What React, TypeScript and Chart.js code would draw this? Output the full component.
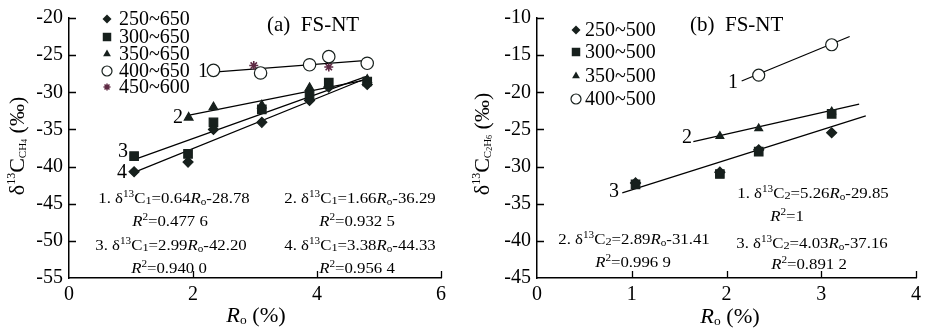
import React, { useEffect, useRef } from "react";
import { Chart, registerables } from "chart.js";

Chart.register(...registerables);

// ---------------- Panel (a): δ13C of CH4 ----------------
const aLegend = ["250~650", "300~650", "350~650", "400~650", "450~600"];
const a250Ro = [1.05, 1.92, 2.33, 3.11, 3.88, 4.19, 4.81];
const a250D = [-40.7, -39.4, -35.0, -34.05, -31.1, -29.3, -28.95];
const a300Ro = [1.05, 1.92, 2.33, 3.11, 3.88, 4.19, 4.81];
const a300D = [-38.6, -38.3, -34.05, -32.3, -30.4, -28.7, -28.55];
const a350Ro = [1.93, 2.33, 3.11, 3.88, 4.81];
const a350D = [-33.4, -32.0, -31.75, -29.4, -28.3];
const a400Ro = [2.33, 3.09, 3.88, 4.19, 4.81];
const a400D = [-27.05, -27.4, -26.3, -25.2, -26.1];
const a450Ro = [2.98, 4.19];
const a450D = [-26.4, -26.6];
// regression lines 1..4 (from the printed equations)
const aFitSlope = [0.64, 1.66, 2.99, 3.38];
const aFitIntercept = [-28.78, -36.29, -42.2, -44.33];
const aFitFrom = [2.33, 1.92, 1.05, 1.05];
const aFitTo = [4.81, 4.81, 4.81, 4.81];
const aR2 = ["0.477 6", "0.932 5", "0.940 0", "0.956 4"];
const aXTicks = [0, 2, 4, 6];
const aYTicks = [-55, -50, -45, -40, -35, -30, -25, -20];

// ---------------- Panel (b): δ13C of C2H6 ----------------
const bLegend = ["250~500", "300~500", "350~500", "400~500"];
const b250Ro = [1.04, 1.93, 2.34, 3.11];
const b250D = [-32.2, -30.75, -27.75, -25.45];
const b300Ro = [1.04, 1.93, 2.34, 3.11];
const b300D = [-32.4, -31.0, -28.0, -22.9];
const b350Ro = [1.93, 2.34, 3.11];
const b350D = [-25.9, -24.87, -22.6];
const b400Ro = [2.34, 3.11];
const b400D = [-17.7, -13.6];
const bFitSlope = [5.26, 2.89, 4.03];
const bFitIntercept = [-29.85, -31.41, -37.16];
const bFitFrom = [2.16, 1.65, 0.9];
const bFitTo = [3.3, 3.4, 3.47];
const bR2 = ["1", "0.996 9", "0.891 2"];
const bXTicks = [0, 1, 2, 3, 4];
const bYTicks = [-45, -40, -35, -30, -25, -20, -15, -10];

const FF = "'Liberation Serif', 'Times New Roman', Times, serif";
const INK = "#17201d";
const STAR = "#5e2a44";
const WIDE = 1.12;

type Seg = [string, number, number?, boolean?];

function segFont(s: Seg) {
  return `${s[3] ? "italic " : ""}${s[1]}px ${FF}`;
}
function drawRich(ctx: CanvasRenderingContext2D, segs: Seg[], x: number, y: number, align = "left", sx = 1) {
  ctx.save();
  ctx.textBaseline = "alphabetic";
  ctx.textAlign = "left";
  ctx.fillStyle = "#000";
  let w = 0;
  for (const s of segs) {
    ctx.font = segFont(s);
    w += ctx.measureText(s[0]).width;
  }
  ctx.translate(x, y);
  ctx.scale(sx, 1);
  let cx = align === "center" ? -w / 2 : align === "right" ? -w : 0;
  for (const s of segs) {
    ctx.font = segFont(s);
    ctx.fillText(s[0], cx, s[2] || 0);
    cx += ctx.measureText(s[0]).width;
  }
  ctx.restore();
}
function eqSegs(n: number, sub: string, k: number, b: number): Seg[] {
  return [
    [`${n}. δ`, 15],
    ["13", 10, -6],
    ["C", 15],
    [sub, 11, 1],
    [`=${k.toFixed(2)}`, 15],
    ["R", 15, 0, true],
    ["o", 10, 2],
    [`-${Math.abs(b).toFixed(2)}`, 15],
  ];
}
function r2Segs(r: string): Seg[] {
  return [["R", 15, 0, true], ["2", 10, -6], [`=${r}`, 15]];
}

function drawMarker(ctx: CanvasRenderingContext2D, style: string, x: number, y: number, r: number, color: string) {
  ctx.save();
  ctx.beginPath();
  ctx.fillStyle = color;
  ctx.strokeStyle = color;
  ctx.lineWidth = 1.2;
  if (style === "rectRot") {
    ctx.moveTo(x - r, y); ctx.lineTo(x, y - r); ctx.lineTo(x + r, y); ctx.lineTo(x, y + r); ctx.closePath(); ctx.fill();
  } else if (style === "rect") {
    const s = r * Math.SQRT1_2;
    ctx.rect(x - s, y - s, 2 * s, 2 * s); ctx.fill();
  } else if (style === "triangle") {
    for (let i = 0; i < 3; i++) {
      const a = (i * 2 * Math.PI) / 3;
      const px = x + Math.sin(a) * r, py = y - Math.cos(a) * r;
      if (i === 0) ctx.moveTo(px, py); else ctx.lineTo(px, py);
    }
    ctx.closePath(); ctx.fill();
  } else if (style === "circle") {
    ctx.arc(x, y, r, 0, Math.PI * 2);
    ctx.fillStyle = "#fff"; ctx.fill(); ctx.stroke();
  } else if (style === "star") {
    for (let i = 0; i < 4; i++) {
      const a = (i * Math.PI) / 4;
      ctx.moveTo(x - Math.cos(a) * r, y - Math.sin(a) * r);
      ctx.lineTo(x + Math.cos(a) * r, y + Math.sin(a) * r);
    }
    ctx.lineWidth = 1.5; ctx.stroke();
  }
  ctx.restore();
}

function pts(xs: number[], ys: number[]) {
  return xs.map((x, i) => ({ x, y: ys[i] }));
}
function fitLine(k: number, b: number, x0: number, x1: number) {
  return [{ x: x0, y: k * x0 + b }, { x: x1, y: k * x1 + b }];
}

interface Series { label: string; data: { x: number; y: number }[]; style: string; r: number; color: string; legR: number }
interface TextItem { segs: Seg[]; x: number; y: number; align: string; sx?: number }

interface PanelProps {
  left: number;
  width: number;
  xTicks: number[];
  yTicks: number[];
  axisW: number;
  padRight: number;
  series: Series[];
  fits: { x: number; y: number }[][];
  texts: TextItem[];
  legendX: number;
  legendTextX: number;
  legendBase: number[];
  yTitle: Seg[];
  yTitlePos: [number, number];
}

function Panel(p: PanelProps) {
  const ref = useRef<HTMLCanvasElement | null>(null);
  useEffect(() => {
    if (!ref.current) return;
    const datasets: any[] = [];
    p.series.forEach((s) => {
      datasets.push({
        label: s.label,
        data: s.data,
        pointStyle: s.style,
        pointRadius: s.r,
        pointBackgroundColor: s.style === "circle" ? "#fff" : s.color,
        pointBorderColor: s.color,
        pointBorderWidth: s.style === "star" ? 1.6 : 1.2,
        showLine: false,
      });
    });
    p.fits.forEach((f) => {
      datasets.push({
        data: f,
        showLine: true,
        pointRadius: 0,
        borderColor: "#000",
        borderWidth: 1.2,
        fill: false,
      });
    });
    const xMin = p.xTicks[0], xMax = p.xTicks[p.xTicks.length - 1];
    const yMin = p.yTicks[0], yMax = p.yTicks[p.yTicks.length - 1];
    const overlay = {
      id: "overlay",
      afterDraw(chart: any) {
        const ctx = chart.ctx as CanvasRenderingContext2D;
        const ca = chart.chartArea;
        const xs = chart.scales.x, ys = chart.scales.y;
        ctx.save();
        ctx.strokeStyle = "#000";
        ctx.lineWidth = 1.3;
        ctx.beginPath();
        p.yTicks.forEach((v) => {
          if (v === yMin) return;
          const py = Math.round(ys.getPixelForValue(v)) + 0.5;
          ctx.moveTo(ca.left, py); ctx.lineTo(ca.left + 7, py);
        });
        p.xTicks.forEach((v) => {
          if (v === xMin) return;
          const px = Math.round(xs.getPixelForValue(v)) + 0.5;
          ctx.moveTo(px, ca.bottom); ctx.lineTo(px, ca.bottom - 7);
        });
        ctx.stroke();
        ctx.restore();
        // legend
        p.series.forEach((s, i) => {
          drawMarker(ctx, s.style, p.legendX, p.legendBase[i] - 6, s.legR, s.color);
          drawRich(ctx, [[s.label, 20]], p.legendTextX, p.legendBase[i], "left");
        });
        p.texts.forEach((t) => drawRich(ctx, t.segs, t.x, t.y, t.align, t.sx ?? 1));
        // y title
        ctx.save();
        ctx.translate(p.yTitlePos[0] + 7, p.yTitlePos[1]);
        ctx.rotate(-Math.PI / 2);
        drawRich(ctx, p.yTitle, 0, 0, "center");
        ctx.restore();
      },
    };
    const chart = new Chart(ref.current, {
      type: "scatter",
      data: { datasets },
      options: {
        responsive: false,
        animation: false,
        events: [],
        layout: { padding: { top: 15, right: p.padRight, left: 0, bottom: 0 } },
        plugins: { legend: { display: false }, tooltip: { enabled: false } },
        scales: {
          x: {
            type: "linear",
            min: xMin,
            max: xMax,
            afterBuildTicks: (s: any) => { s.ticks = p.xTicks.map((v) => ({ value: v })); },
            afterFit: (s: any) => { s.height = 52; },
            grid: { display: false, drawTicks: false },
            border: { display: true, color: "#000", width: 1.5 },
            ticks: { color: "#000", font: { family: FF, size: 20 }, padding: 5, maxRotation: 0 },
          },
          y: {
            type: "linear",
            min: yMin,
            max: yMax,
            afterBuildTicks: (s: any) => { s.ticks = p.yTicks.map((v) => ({ value: v })); },
            afterFit: (s: any) => { s.width = p.axisW; },
            grid: { display: false, drawTicks: false },
            border: { display: true, color: "#000", width: 1.5 },
            ticks: { color: "#000", font: { family: FF, size: 20 }, padding: 6 },
          },
        },
      },
      plugins: [overlay],
    } as any);
    return () => chart.destroy();
  }, []);
  return (
    <div style={{ position: "absolute", left: p.left, top: 0, width: p.width, height: 330 }}>
      <canvas ref={ref} width={p.width} height={330} style={{ display: "block" }} />
    </div>
  );
}

const xTitle: Seg[] = [["R", 20, 0, true], ["o", 12, 2], [" (%)", 20]];

export default function App() {
  const aSeries: Series[] = [
    { label: aLegend[0], data: pts(a250Ro, a250D), style: "rectRot", r: 5, color: INK, legR: 4.5 },
    { label: aLegend[1], data: pts(a300Ro, a300D), style: "rect", r: 6, color: INK, legR: 6 },
    { label: aLegend[2], data: pts(a350Ro, a350D), style: "triangle", r: 5, color: INK, legR: 4.5 },
    { label: aLegend[3], data: pts(a400Ro, a400D), style: "circle", r: 6.2, color: INK, legR: 5 },
    { label: aLegend[4], data: pts(a450Ro, a450D), style: "star", r: 4.5, color: STAR, legR: 3.5 },
  ];
  const aFits = aFitSlope.map((k, i) => fitLine(k, aFitIntercept[i], aFitFrom[i], aFitTo[i]));
  const aTexts: TextItem[] = [
    { segs: eqSegs(1, "1", aFitSlope[0], aFitIntercept[0]), x: 174, y: 203, align: "center", sx: WIDE },
    { segs: r2Segs(aR2[0]), x: 170, y: 226, align: "center", sx: WIDE },
    { segs: eqSegs(2, "1", aFitSlope[1], aFitIntercept[1]), x: 360, y: 203, align: "center", sx: WIDE },
    { segs: r2Segs(aR2[1]), x: 357, y: 226, align: "center", sx: WIDE },
    { segs: eqSegs(3, "1", aFitSlope[2], aFitIntercept[2]), x: 171, y: 250, align: "center", sx: WIDE },
    { segs: r2Segs(aR2[2]), x: 169, y: 273, align: "center", sx: WIDE },
    { segs: eqSegs(4, "1", aFitSlope[3], aFitIntercept[3]), x: 360, y: 250, align: "center", sx: WIDE },
    { segs: r2Segs(aR2[3]), x: 357, y: 273, align: "center", sx: WIDE },
    { segs: [["1", 20]], x: 203, y: 77, align: "center" },
    { segs: [["2", 20]], x: 178, y: 123, align: "center" },
    { segs: [["3", 20]], x: 123, y: 157, align: "center" },
    { segs: [["4", 20]], x: 122, y: 178, align: "center" },
    { segs: [["(a)  FS-NT", 21]], x: 267, y: 31, align: "left" },
    { segs: xTitle, x: 256, y: 322, align: "center", sx: WIDE },
  ];
  const bSeries: Series[] = [
    { label: bLegend[0], data: pts(b250Ro, b250D), style: "rectRot", r: 5, color: INK, legR: 4.5 },
    { label: bLegend[1], data: pts(b300Ro, b300D), style: "rect", r: 6, color: INK, legR: 6 },
    { label: bLegend[2], data: pts(b350Ro, b350D), style: "triangle", r: 4.5, color: INK, legR: 4.5 },
    { label: bLegend[3], data: pts(b400Ro, b400D), style: "circle", r: 6, color: INK, legR: 5 },
  ];
  const bFits = bFitSlope.map((k, i) => fitLine(k, bFitIntercept[i], bFitFrom[i], bFitTo[i]));
  const bTexts: TextItem[] = [
    { segs: eqSegs(1, "2", bFitSlope[0], bFitIntercept[0]), x: 353, y: 198, align: "center", sx: WIDE },
    { segs: r2Segs(bR2[0]), x: 327, y: 221, align: "center", sx: WIDE },
    { segs: eqSegs(3, "2", bFitSlope[2], bFitIntercept[2]), x: 352, y: 248, align: "center", sx: WIDE },
    { segs: r2Segs(bR2[2]), x: 349, y: 269, align: "center", sx: WIDE },
    { segs: eqSegs(2, "2", bFitSlope[1], bFitIntercept[1]), x: 174, y: 244, align: "center", sx: WIDE },
    { segs: r2Segs(bR2[1]), x: 173, y: 267, align: "center", sx: WIDE },
    { segs: [["1", 20]], x: 273, y: 88, align: "center" },
    { segs: [["2", 20]], x: 227, y: 143, align: "center" },
    { segs: [["3", 20]], x: 154, y: 197, align: "center" },
    { segs: [["(b)  FS-NT", 21]], x: 230, y: 31, align: "left" },
    { segs: xTitle, x: 270, y: 323, align: "center", sx: WIDE },
  ];
  const aYTitle: Seg[] = [["δ", 22], ["13", 12, -9], ["C", 22], ["CH", 11, 2], ["4", 8, 3], [" (‰)", 22]];
  const bYTitle: Seg[] = [["δ", 22], ["13", 12, -9], ["C", 22], ["C", 11, 2], ["2", 8, 3], ["H", 11, 2], ["6", 8, 3], [" (‰)", 22]];
  return (
    <div style={{ position: "absolute", left: 0, top: 0, width: 926, height: 330, background: "#fff" }}>
      <Panel
        left={0}
        width={460}
        xTicks={aXTicks}
        yTicks={aYTicks}
        axisW={69}
        padRight={19}
        series={aSeries}
        fits={aFits}
        texts={aTexts}
        legendX={107}
        legendTextX={119}
        legendBase={[25, 43, 60, 77, 93]}
        yTitle={aYTitle}
        yTitlePos={[17, 146]}
      />
      <Panel
        left={460}
        width={466}
        xTicks={bXTicks}
        yTicks={bYTicks}
        axisW={77}
        padRight={6}
        series={bSeries}
        fits={bFits}
        texts={bTexts}
        legendX={116}
        legendTextX={125}
        legendBase={[36, 58, 82, 105]}
        yTitle={bYTitle}
        yTitlePos={[22, 144]}
      />
    </div>
  );
}
